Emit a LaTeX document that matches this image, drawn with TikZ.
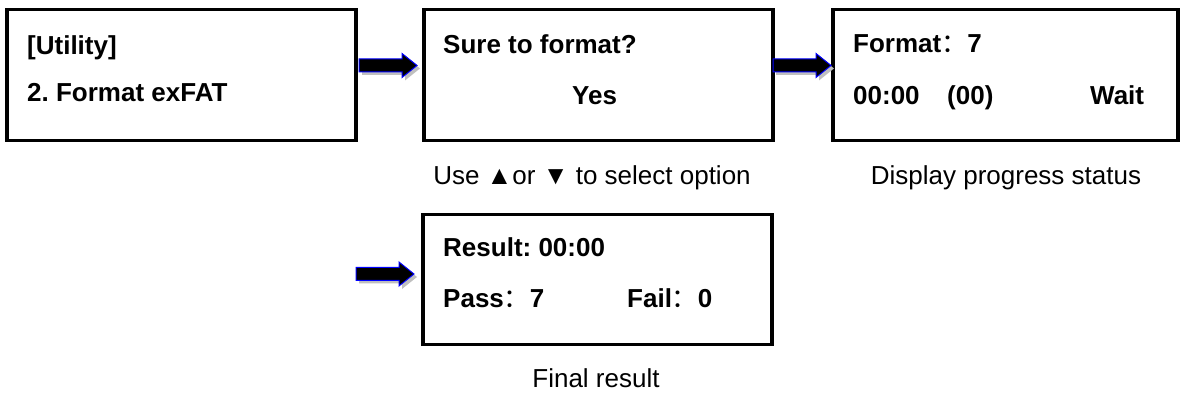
\documentclass[tikz,border=0pt]{standalone}
\usepackage{fontspec}
\setmainfont{Liberation Sans}
\newfontfamily\cjk{Noto Sans CJK SC}
\newcommand{\fwcolon}{{\cjk\mdseries ：}}
\frenchspacing
\begin{document}
\begin{tikzpicture}[x=1pt,y=1pt,
  screen/.style={draw=black, line width=3.5pt, fill=white, anchor=north west,
    minimum width=349pt, minimum height=131pt, inner sep=0pt},
  lbl/.style={anchor=base west, inner sep=0pt, font=\fontsize{26}{30}\selectfont\bfseries},
  capt/.style={anchor=base, inner sep=0pt, font=\fontsize{26}{30}\selectfont},
  blockarrow/.pic={
    \fill[black!25] (3,-3) ++(0,-6.5) -- ++(43,0) -- ++(0,-5.5) -- ++(15,12) -- ++(-15,12) -- ++(0,-5.5) -- ++(-43,0) -- cycle;
    \filldraw[fill=black, draw=blue, line width=1pt] (0,-6.5) -- (43,-6.5) -- (43,-12) -- (58,0) -- (43,12) -- (43,6.5) -- (0,6.5) -- cycle;
  }]
\useasboundingbox (0,0) rectangle (1181,398);

% screens
\node[screen] (s1) at (5,390) {};
\node[screen] (s2) at (422,390) {};
\node[screen, minimum width=345pt] (s3) at (831,390) {};
\node[screen, minimum height=130pt] (s4) at (421,185) {};

% arrows
\pic (a1) at (359,332.5) {blockarrow};
\pic (a2) at (773,332.5) {blockarrow};
\pic (a3) at (356,124) {blockarrow};

% texts
\node[lbl] (t11) at (27,343) {[Utility]};
\node[lbl] (t12) at (27,296) {2. Format exFAT};
\node[lbl] (t21) at (443,344) {Sure to format?};
\node[lbl] (t22) at (572,293) {Yes};
\node[lbl] (t31) at (853,345) {Format\fwcolon 7};
\node[lbl] (t32) at (853,293) {00:00};
\node[lbl] (t33) at (947,293) {(00)};
\node[lbl] (t34) at (1090,293) {Wait};
\node[lbl] (t41) at (443,141) {Result: 00:00};
\node[lbl] (t42) at (443,90) {Pass\fwcolon 7};
\node[lbl] (t43) at (627,90) {Fail\fwcolon 0};

% captions
\node[capt] (c2) at (592,213) {Use ▲or ▼ to select option};
\node[capt] (c3) at (1006,213) {Display progress status};
\node[capt] (c4) at (596,10) {Final result};
\end{tikzpicture}
\end{document}
